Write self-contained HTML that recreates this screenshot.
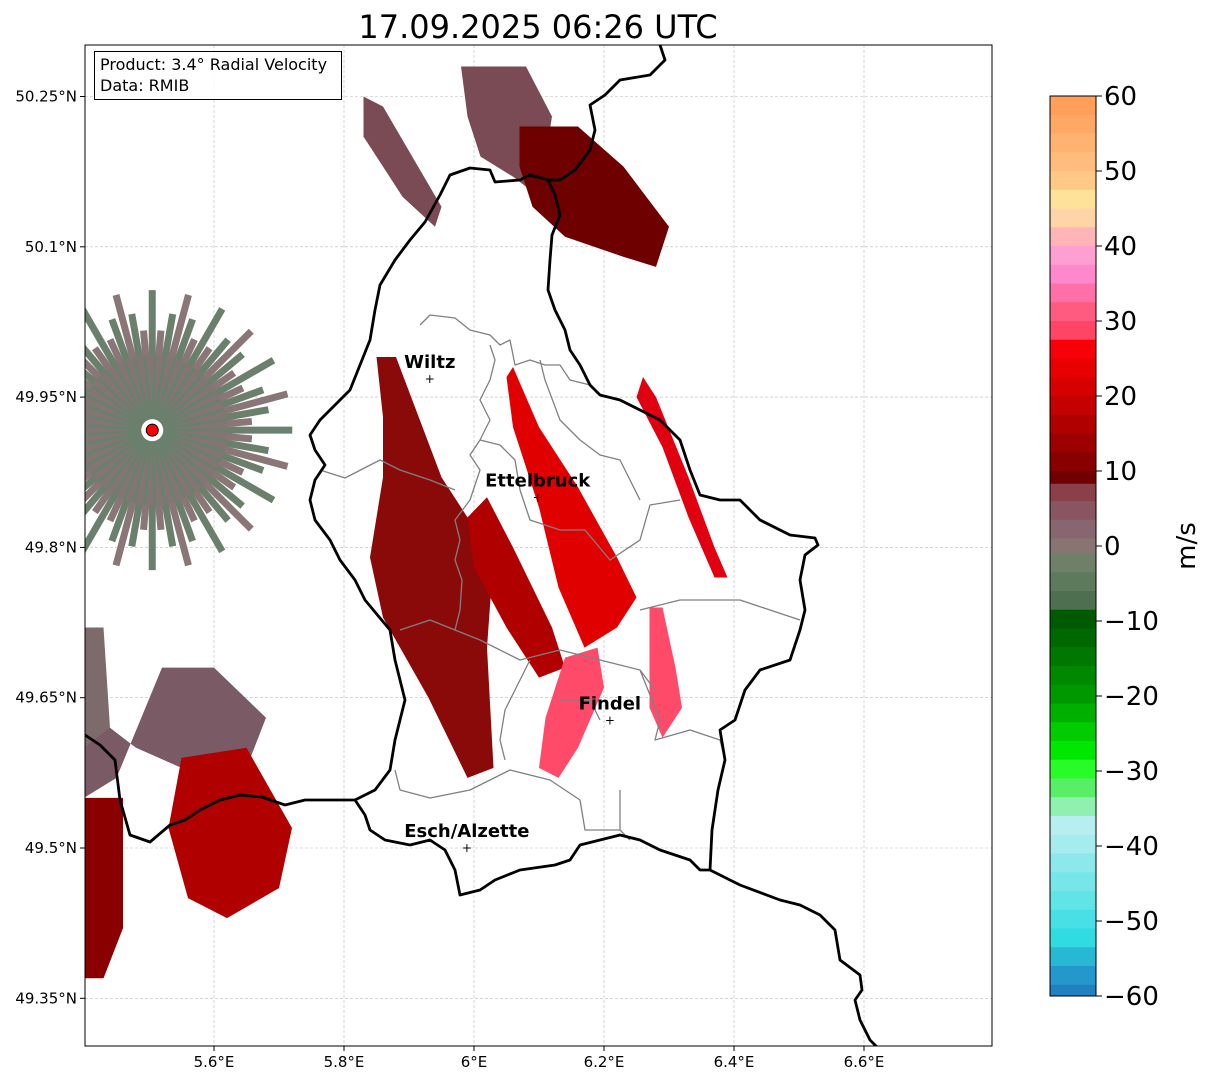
<!DOCTYPE html>
<html><head><meta charset="utf-8"><style>
body{margin:0;background:#fff;font-family:"Liberation Sans",sans-serif}
svg text{font-family:"DejaVu Sans","Liberation Sans",sans-serif}
</style></head><body>
<svg id="c" width="1207" height="1081" xmlns="http://www.w3.org/2000/svg">
<defs><clipPath id="mapclip"><rect x="85" y="45" width="907" height="1001"/></clipPath></defs>
<text x="538" y="38" font-size="32" text-anchor="middle">17.09.2025 06:26 UTC</text>
<g id="grid"></g>
<g id="data" clip-path="url(#mapclip)"></g>
<g clip-path="url(#mapclip)" fill="none" stroke-linejoin="round">
<path stroke="#808080" stroke-width="1.3" d="M420,325 L430,315 L455,318 L470,330 L490,335 L500,345 L510,340 L515,365 L530,360 L545,365 L560,365 L570,380 L590,385 M490,345 L495,360 L490,380 L480,400 L490,420 L480,440 L470,455 L480,470 L470,500 L455,520 L460,540 L455,560 L462,580 L460,610 L455,630 M320,470 L345,478 L380,460 L400,470 L430,480 L455,490 M480,440 L500,445 L515,460 L520,490 L530,520 L560,530 L585,530 L610,560 L640,540 L650,505 L680,500 M400,630 L430,620 L455,630 L480,640 L520,660 L560,650 L600,660 L640,670 L655,690 M640,610 L680,600 L740,600 L770,610 L800,620 M530,660 L515,690 L505,710 L500,740 L505,760 M560,700 L590,700 L600,720 M640,670 L660,720 L655,740 L690,730 L720,740 L725,760 M395,770 L400,790 L430,798 L470,790 L510,770 L550,780 L580,800 M580,800 L585,830 L620,830 L630,840 M620,790 L620,830 M540,360 L545,380 L560,420 L580,440 L600,455 L620,460 L630,480 L640,500"/>
<path stroke="#000" stroke-width="2.8" d="M425,222 L440,195 L450,175 L470,168 L490,170 L495,182 L520,180 L530,175 L548,180 L555,195 L560,215 L552,235 L550,260 L548,290 L555,310 L565,330 L570,350 L580,365 L590,385 L600,395 L620,400 L640,410 L660,420 L680,440 L690,470 L700,495 L720,500 L740,500 L760,520 L790,535 L815,538 L818,545 L805,555 L800,580 L805,610 L800,630 L790,660 L760,670 L745,690 L735,720 L720,730 L725,760 L718,790 L712,830 L710,870 L700,870 L690,860 L660,850 L640,840 L620,835 L580,845 L570,860 L555,865 L520,870 L495,880 L480,890 L460,895 L455,870 L445,850 L430,840 L410,845 L385,840 L370,830 L365,815 L355,800 L375,790 L390,770 L395,740 L405,700 L400,680 L395,660 L390,630 L365,600 L355,580 L340,560 L330,540 L315,520 L310,500 L315,480 L325,465 L315,450 L310,435 L320,420 L330,410 L350,390 L362,360 L370,340 L375,310 L380,285 L395,260 L410,240 Z"/>
<path stroke="#000" stroke-width="2.8" d="M85,735 L100,745 L115,760 L120,800 L130,835 L150,842 L170,825 L185,820 L200,810 L220,800 L240,795 L262,797 L285,805 L305,800 L330,800 L355,800 M660,45 L665,60 L650,75 L620,80 L605,95 L590,105 L595,130 L590,150 L575,170 L560,180 L548,180 M710,870 L740,885 L780,900 L800,905 L820,915 L835,930 L840,960 L860,975 L862,990 L855,1000 L860,1020 L870,1040 L880,1050"/>
</g>
<g id="cities"></g>
<rect x="85" y="45" width="907" height="1001" fill="none" stroke="#000" stroke-width="1"/>
<g>
<rect x="94.500" y="51.500" width="247" height="48" fill="#fff" fill-opacity="0.85" stroke="#000"/>
<text x="100" y="70" font-size="16">Product: 3.4° Radial Velocity</text>
<text x="100" y="91" font-size="16">Data: RMIB</text>
</g>
<g id="axes"></g>
<g id="cbar"></g>
<text x="0" y="0" transform="translate(1195,546) rotate(-90)" font-size="26" text-anchor="middle">m/s</text>
</svg>
<script>
const lonTicks=[5.6,5.8,6.0,6.2,6.4,6.6];
const lonLabels=["5.6°E","5.8°E","6°E","6.2°E","6.4°E","6.6°E"];
const latTicks=[50.25,50.1,49.95,49.8,49.65,49.5,49.35];
const latLabels=["50.25°N","50.1°N","49.95°N","49.8°N","49.65°N","49.5°N","49.35°N"];
const cbTicks=[60,50,40,30,20,10,0,-10,-20,-30,-40,-50,-60];
const cbStops=[[60,"#ff9f5a"],[57.5,"#ffa865"],[55,"#ffb371"],[52.5,"#ffbc7a"],[50,"#ffc884"],[47.5,"#ffe29a"],[45,"#ffd4a8"],[42.5,"#ffb4b8"],[40,"#ff9ed0"],[37.5,"#ff88cc"],[35,"#ff70a8"],[32.5,"#ff5a80"],[30,"#ff4464"],[27.5,"#f80008"],[25,"#e80000"],[22.5,"#d60000"],[20,"#c40000"],[17.5,"#b00000"],[15,"#9c0000"],[12.5,"#880000"],[10,"#700000"],[8.3,"#8a4048"],[6,"#8a5563"],[3.5,"#886670"],[1,"#887472"],[-1,"#6e8068"],[-3.5,"#5e7a5c"],[-6,"#4e7050"],[-8.5,"#005a00"],[-11,"#006800"],[-13.5,"#007800"],[-16,"#008800"],[-18.5,"#009800"],[-21,"#00b000"],[-23.5,"#00cc00"],[-26,"#00e800"],[-28.5,"#28fc28"],[-31,"#58ee68"],[-33.5,"#90f0b0"],[-36,"#b8eef0"],[-38.5,"#a4ecee"],[-41,"#8ce8ea"],[-43.5,"#76e6e8"],[-46,"#60e4e6"],[-48.5,"#48e0e4"],[-51,"#30dce2"],[-53.5,"#28b8d4"],[-56,"#2498cc"],[-58.5,"#2080c0"]];
const radarSite=[5.505,49.917];
const cityNames=["Wiltz","Ettelbruck","Findel","Esch/Alzette"];
const cityLon=[5.932,6.098,6.209,5.989];
const cityLat=[49.968,49.85,49.627,49.5];
const blobColors=["#7a4a55","#6e0000","#7a4a55","#8a0a0a","#b00000","#e00000","#ff4a6a","#e00010","#ff4a6a","#7a5a65","#b00000","#8a0000","#7d6a6a"];
const blobs=[
[[5.98,50.28],[6.08,50.28],[6.12,50.23],[6.10,50.15],[6.06,50.17],[6.01,50.19],[5.99,50.23]],
[[6.07,50.22],[6.16,50.22],[6.23,50.18],[6.30,50.12],[6.28,50.08],[6.23,50.09],[6.14,50.11],[6.09,50.14],[6.07,50.18]],
[[5.83,50.25],[5.86,50.24],[5.95,50.14],[5.94,50.12],[5.89,50.15],[5.83,50.21]],
[[5.85,49.99],[5.88,49.99],[5.95,49.87],[5.99,49.83],[6.03,49.79],[6.02,49.70],[6.03,49.58],[5.99,49.57],[5.93,49.65],[5.86,49.73],[5.84,49.79],[5.86,49.87],[5.86,49.93]],
[[6.02,49.85],[6.06,49.80],[6.12,49.72],[6.14,49.68],[6.10,49.67],[6.05,49.72],[6.00,49.78],[5.99,49.83]],
[[6.06,49.98],[6.10,49.92],[6.16,49.86],[6.22,49.79],[6.25,49.75],[6.22,49.72],[6.17,49.70],[6.13,49.76],[6.10,49.84],[6.06,49.92],[6.05,49.97]],
[[6.14,49.69],[6.19,49.70],[6.20,49.66],[6.16,49.60],[6.13,49.57],[6.10,49.58],[6.11,49.63]],
[[6.26,49.97],[6.28,49.95],[6.33,49.87],[6.37,49.80],[6.39,49.77],[6.37,49.77],[6.33,49.83],[6.29,49.90],[6.25,49.95]],
[[6.27,49.74],[6.29,49.74],[6.31,49.68],[6.32,49.64],[6.29,49.61],[6.27,49.64],[6.27,49.70]],
[[5.52,49.68],[5.60,49.68],[5.68,49.63],[5.65,49.58],[5.55,49.58],[5.48,49.60],[5.42,49.63],[5.40,49.60],[5.40,49.55],[5.45,49.57]],
[[5.55,49.59],[5.65,49.60],[5.72,49.52],[5.70,49.46],[5.62,49.43],[5.56,49.45],[5.53,49.52]],
[[5.40,49.55],[5.46,49.55],[5.46,49.42],[5.43,49.37],[5.40,49.37]],
[[5.40,49.72],[5.43,49.72],[5.44,49.62],[5.40,49.60]]];
const NS="http://www.w3.org/2000/svg";
function X(lon){return 474+(lon-6)*650;}
function Y(lat){return 848-(lat-49.5)*1002;}
function CB(v){return 546-v*7.5;}
function mk(tag,attrs,parent){const e=document.createElementNS(NS,tag);for(const k in attrs)e.setAttribute(k,attrs[k]);parent.appendChild(e);return e;}
const grid=document.getElementById('grid'),axes=document.getElementById('axes');
lonTicks.forEach((t,i)=>{
 const l=mk('line',{x1:X(t),x2:X(t),y1:45,y2:1046,stroke:'#bbb','stroke-width':0.6,'stroke-dasharray':'3,2'},grid);
 
 
 mk('line',{x1:X(t),x2:X(t),y1:1046,y2:1051,stroke:'#000'},axes);
 const tx=mk('text',{x:X(t),y:1067,'font-size':15,'text-anchor':'middle'},axes);tx.textContent=lonLabels[i];
 
 
});
latTicks.forEach((t,i)=>{
 const l=mk('line',{x1:85,x2:992,y1:Y(t),y2:Y(t),stroke:'#bbb','stroke-width':0.6,'stroke-dasharray':'3,2'},grid);
 
 
 mk('line',{x1:80,x2:85,y1:Y(t),y2:Y(t),stroke:'#000'},axes);
 const tx=mk('text',{x:77,y:Y(t)+5,'font-size':15,'text-anchor':'end'},axes);tx.textContent=latLabels[i];
 
 
});
const data=document.getElementById('data');
const cx=X(radarSite[0]),cy=Y(radarSite[1]);
const rg=mk('g',{},data);


for(let a=0;a<360;a+=5){
 const r=(a%15===0)?140:((a%10===0)?118:100);
 const rad=a*Math.PI/180;
 mk('line',{x1:cx,y1:cy,x2:cx+r*Math.cos(rad),y2:cy+r*Math.sin(rad),stroke:(a%10?'#8a7676':'#6a806c'),'stroke-width':7},rg);
}
mk('circle',{cx:cx,cy:cy,r:75,fill:'#847575'},rg);
for(let a=0;a<360;a+=8){
 const rad=a*Math.PI/180;
 mk('line',{x1:cx,y1:cy,x2:cx+75*Math.cos(rad),y2:cy+75*Math.sin(rad),stroke:'#6a806c','stroke-width':3},rg);
}
mk('circle',{cx:cx,cy:cy,r:11,fill:'#fff'},rg);
blobs.forEach((b,i)=>{
 const p=mk('polygon',{points:b.map(q=>X(q[0])+','+Y(q[1])).join(' '),fill:blobColors[i]},data);
 
 
});
const site=mk('circle',{cx:cx,cy:cy,r:6,fill:'#f00',stroke:'#000','stroke-width':1},data);


const cities=document.getElementById('cities');
cityNames.forEach((n,i)=>{
 const x=X(cityLon[i]),y=Y(cityLat[i]);
 const m=mk('text',{x:x,y:y+4,'font-size':12,'text-anchor':'middle'},cities);m.textContent='+';
 
 
 const t=mk('text',{x:x,y:y-11,'font-size':18,'font-weight':'bold','text-anchor':'middle'},cities);t.textContent=n;
 
 
});
const cb=document.getElementById('cbar');
cbStops.forEach((s,i)=>{
 const v1=s[0],v2=(i+1<cbStops.length)?cbStops[i+1][0]:-60;
 mk('rect',{x:1050,y:CB(v1),width:46,height:CB(v2)-CB(v1)+0.5,fill:s[1]},cb);
});
mk('rect',{x:1050,y:CB(60),width:46,height:CB(-60)-CB(60),fill:'none',stroke:'#000'},cb);
cbTicks.forEach(t=>{
 mk('line',{x1:1096,x2:1102,y1:CB(t),y2:CB(t),stroke:'#000'},cb);
 const tx=mk('text',{x:1104,y:CB(t)+9,'font-size':26},cb);tx.textContent=(t<0?'\u2212'+(-t):t);
 
 
});
</script>
</body></html>
